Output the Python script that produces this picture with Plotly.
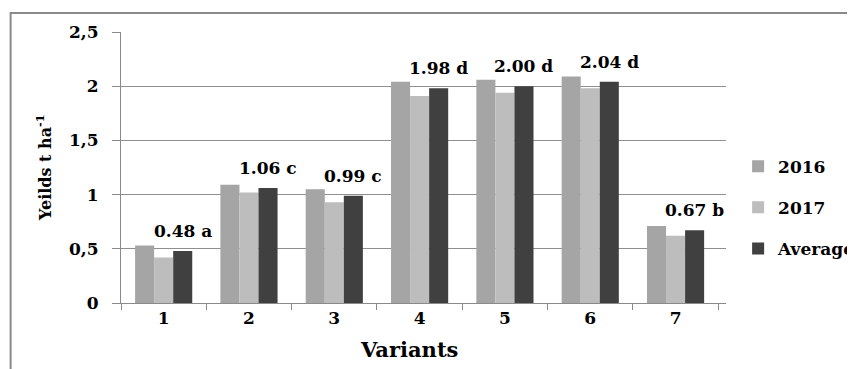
import plotly.graph_objects as go

variants = ["1", "2", "3", "4", "5", "6", "7"]
y2016 = [0.53, 1.09, 1.05, 2.04, 2.06, 2.09, 0.71]
y2017 = [0.42, 1.02, 0.93, 1.91, 1.94, 1.98, 0.62]
average = [0.48, 1.06, 0.99, 1.98, 2.00, 2.04, 0.67]
letters = ["a", "c", "c", "d", "d", "d", "b"]
ytick_vals = [0, 0.5, 1, 1.5, 2, 2.5]
ytick_text = ["0", "0,5", "1", "1,5", "2", "2,5"]

FONT = "DejaVu Serif"
BARGAP = 0.33

fig = go.Figure()
series = [("2016", y2016, "#a5a5a5"), ("2017", y2017, "#bdbdbd"), ("Average", average, "#404040")]
for name, vals, col in series:
    fig.add_trace(go.Bar(x=variants, y=vals, name=name, marker_color=col,
                         marker_line_width=0, legendgroup=name))

bar_w = (1 - BARGAP) / 3
annotations = []
for i, (v, l) in enumerate(zip(average, letters)):
    annotations.append(dict(x=i + bar_w, y=v, xref="x", yref="y", text=f"<b>{v:.2f} {l}</b>",
                            showarrow=False, yanchor="bottom", yshift=8,
                            font=dict(family=FONT, size=17, color="black")))
annotations.append(dict(x=0.476, y=-0.172, xref="paper", yref="paper", text="<b>Variants</b>",
                        showarrow=False, yanchor="middle", xanchor="center",
                        font=dict(family=FONT, size=21, color="black")))
annotations.append(dict(x=-0.128, y=0.5, xref="paper", yref="paper",
                        text="<b>Yeilds t ha<sup>-1</sup></b>", textangle=-90,
                        showarrow=False, yanchor="middle", xanchor="center",
                        font=dict(family=FONT, size=16, color="black")))

fig.update_layout(
    width=847, height=361,
    margin=dict(l=113, r=122, t=24, b=66),
    paper_bgcolor="white", plot_bgcolor="white",
    barmode="group", bargap=BARGAP, bargroupgap=0,
    font=dict(family=FONT, color="black"),
    legend=dict(xref="container", yref="container", x=0.862, y=0.447,
                xanchor="left", yanchor="middle",
                entrywidth=50, entrywidthmode="pixels",
                font=dict(family=FONT, size=17, color="black", weight="bold"),
                tracegroupgap=16, bgcolor="rgba(0,0,0,0)"),
    annotations=annotations,
    shapes=[dict(type="rect", xref="paper", yref="paper", x0=-0.1824, x1=1.3, y0=-0.3, y1=1.07,
                 line=dict(color="#8a8a8a", width=2), layer="below")],
    xaxis=dict(type="category", showline=True, linecolor="#8a8a8a", linewidth=1,
               ticks="outside", tickson="boundaries", ticklen=6, tickcolor="#8a8a8a",
               tickfont=dict(family=FONT, size=17, color="black", weight="bold"),
               showgrid=False),
    yaxis=dict(range=[0, 2.5], tickvals=ytick_vals, ticktext=ytick_text,
               showline=True, linecolor="#8a8a8a", linewidth=1,
               ticks="outside", ticklen=8, tickcolor="#8a8a8a",
               tickfont=dict(family=FONT, size=17, color="black", weight="bold"),
               showgrid=True, gridcolor="#8f8f8f", gridwidth=1,
               ticklabelstandoff=10, zeroline=False),
)

fig.write_html("out.html")
